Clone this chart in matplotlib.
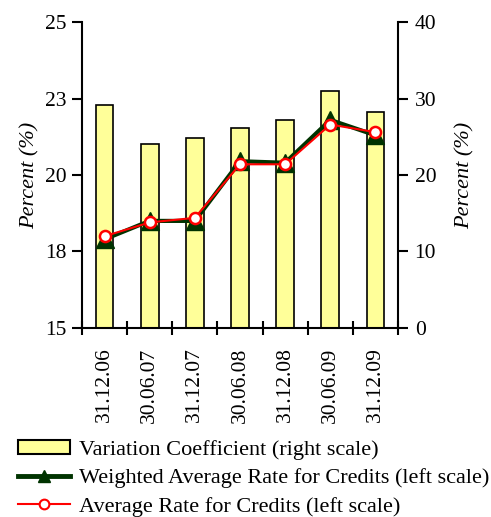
import matplotlib
matplotlib.use("Agg")
import matplotlib.pyplot as plt
from matplotlib.lines import Line2D
from matplotlib.patches import Patch
import numpy as np

plt.rcParams['font.family'] = ['Liberation Serif', 'DejaVu Serif']

dates = ["31.12.06", "30.06.07", "31.12.07", "30.06.08", "31.12.08", "30.06.09", "31.12.09"]
variation_coef = [29.2, 24.1, 24.9, 26.2, 27.2, 31.0, 28.2]
weighted_rate = [17.9, 18.5, 18.5, 20.45, 20.4, 21.8, 21.3]
average_rate = [18.0, 18.45, 18.6, 20.35, 20.35, 21.65, 21.4]

left_ticks = [15, 17.5, 20, 22.5, 25]
left_labels = ["15", "18", "20", "23", "25"]
right_ticks = [0, 10, 20, 30, 40]

bar_color = "#FFFF99"
green = "#003300"
red = "#FF0000"

fig = plt.figure(figsize=(4.91, 5.17), dpi=100)
ax = fig.add_axes([0.167, 0.3656, 0.6436, 0.5918])
ax2 = ax.twinx()

x = np.arange(len(dates))

# bars on the right scale, drawn behind the lines
ax2.bar(x, variation_coef, width=0.39, color=bar_color, edgecolor="black", linewidth=1.2, zorder=1)
ax2.set_ylim(0, 40)
ax2.set_yticks(right_ticks)
ax2.set_zorder(1)
ax.set_zorder(2)
ax.patch.set_visible(False)

ax.plot(x, weighted_rate, color=green, linewidth=3, marker="^", markersize=13,
        markerfacecolor=green, markeredgecolor=green, zorder=3)
ax.plot(x, average_rate, color=red, linewidth=1.5, marker="o", markersize=8,
        markerfacecolor="white", markeredgecolor=red, markeredgewidth=1.8, zorder=4)

ax.set_ylim(15, 25)
ax.set_yticks(left_ticks)
ax.set_yticklabels(left_labels)
ax.set_xlim(-0.5, len(dates) - 0.5)

# category labels at the centres, tick marks at the boundaries
ax.set_xticks(x)
ax.set_xticklabels(dates, rotation=90)
ax.tick_params(axis="x", which="major", length=0, pad=14)
ax.set_xticks(np.arange(-0.5, len(dates)), minor=True)
ax.tick_params(axis="x", which="minor", length=10, direction="inout", width=1.5)

for a in (ax, ax2):
    for s in a.spines.values():
        s.set_visible(False)
    a.tick_params(labelsize=15.5)
ax.spines["left"].set_visible(True)
ax.spines["bottom"].set_visible(True)
ax2.spines["right"].set_visible(True)
for sp in (ax.spines["left"], ax.spines["bottom"], ax2.spines["right"]):
    sp.set_linewidth(1.5)
ax.tick_params(axis="y", length=7, width=1.5, direction="out", pad=4)
ax2.tick_params(axis="y", length=7, width=1.5, direction="out", pad=5)

ax.set_ylabel("Percent (%)", fontsize=16, style="italic", labelpad=4)
ax2.set_ylabel("Percent (%)", fontsize=16, style="italic", rotation=90, labelpad=14)

handles = [
    Patch(facecolor=bar_color, edgecolor="black", linewidth=1.5),
    Line2D([0], [0], color=green, linewidth=3.5, marker="^", markersize=9,
           markerfacecolor=green, markeredgecolor=green),
    Line2D([0], [0], color=red, linewidth=1.5, marker="o", markersize=7,
           markerfacecolor="white", markeredgecolor=red, markeredgewidth=1.5),
]
labels = ["Variation Coefficient (right scale)",
          "Weighted Average Rate for Credits (left scale)",
          "Average Rate for Credits (left scale)"]
fig.legend(handles, labels, loc="upper left", bbox_to_anchor=(0.037, 0.149),
           frameon=False, fontsize=16, handlelength=2.35, handleheight=0.6,
           handletextpad=0.4, labelspacing=0.38, borderaxespad=0, borderpad=0)

fig.savefig("out.png", dpi=100)
